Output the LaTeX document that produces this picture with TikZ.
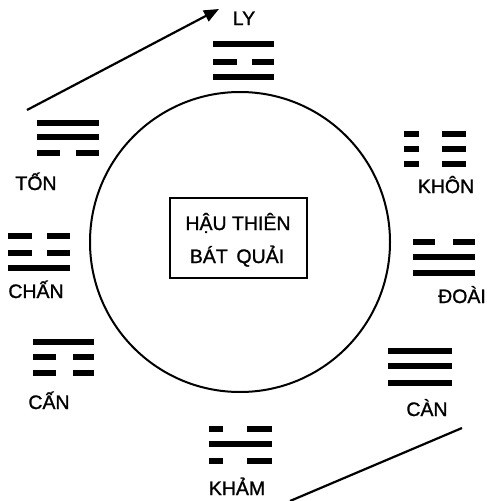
\documentclass[tikz,border=0pt]{standalone}
\usepackage{fontspec}
\setmainfont{Liberation Sans}
\newfontfamily\lblfont{Liberation Sans}[FakeBold=1.2]
\usetikzlibrary{arrows.meta}
\newcommand\yangbar[3]{\draw[bar] (#1,#3) -- (#2,#3);}
\newcommand\yinbar[5]{\draw[bar] (#1,#5) -- (#2,#5) (#3,#5) -- (#4,#5);}
\begin{document}
\begin{tikzpicture}[x=1pt,y=-1pt,
  bar/.style={line width=5.5pt},
  lbl/.style={font=\lblfont\fontsize{19.5}{20}\selectfont, inner sep=0pt, anchor=base},
  rim/.style={line width=2pt},
  conn/.style={line width=2.2pt}]
\useasboundingbox (0,0) rectangle (487,501);
% circle and title box
\node[circle, draw, rim, minimum size=300pt, inner sep=0pt] (ring) at (240,242) {};
\node[draw, line width=1.6pt, minimum width=137pt, minimum height=80pt, inner sep=0pt] (box) at (238.5,238) {};
\node[lbl] (t1) at (238,230) {HẬU THIÊN};
\node[lbl] (t2) at (237,263) {BÁT\, QUẢI};
% LY
\yangbar{213}{274}{44}
\yinbar{213}{237}{252}{274}{62}
\yangbar{213}{274}{77}
\node[lbl] (ly) at (244,25) {LY};
% TON
\yangbar{37}{99}{123}
\yangbar{37}{99}{137}
\yinbar{37}{60}{76}{99}{153}
\node[lbl] (ton) at (36,190) {TỐN};
% KHON
\yinbar{404}{419}{442}{466}{134}
\yinbar{404}{419}{442}{466}{149}
\yinbar{404}{419}{442}{466}{164}
\node[lbl] (khon) at (446,193) {KHÔN};
% CHAN
\yinbar{8}{32}{47}{70}{236}
\yinbar{8}{32}{47}{70}{253}
\yangbar{8}{70}{268}
\node[lbl] (chan) at (36,298) {CHẤN};
% DOAI
\yinbar{413}{435}{453}{475}{242}
\yangbar{413}{475}{257}
\yangbar{413}{475}{273}
\node[lbl] (doai) at (462,303) {ĐOÀI};
% CAN (Gen)
\yangbar{33}{94}{342}
\yinbar{33}{56}{73}{94}{357}
\yinbar{33}{56}{73}{94}{373}
\node[lbl] (gen) at (49,409) {CẤN};
% CAN (Qian)
\yangbar{388}{452}{351}
\yangbar{388}{452}{366}
\yangbar{388}{452}{383}
\node[lbl] (qian) at (427,416) {CÀN};
% KHAM
\yinbar{209}{223}{247}{272}{429}
\yangbar{209}{272}{444}
\yinbar{209}{223}{247}{272}{461}
\node[lbl] (kham) at (237,495) {KHẢM};
% connectors
\coordinate (a1) at (27,110);
\coordinate (a2) at (219,9);
\draw[conn, -{Triangle[length=15pt,width=12pt]}] (a1) -- (a2);
\coordinate (b1) at (290,501);
\coordinate (b2) at (462,428);
\draw[conn] (b1) -- (b2);
\end{tikzpicture}
\end{document}
